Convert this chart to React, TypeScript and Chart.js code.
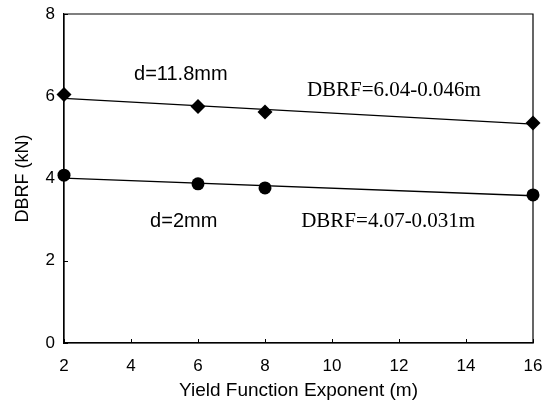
import React, { useEffect, useRef } from "react";
import { Chart, registerables } from "chart.js";

Chart.register(...registerables);

// Data
const exponentM = [2, 6, 8, 16];
const dbrfD118 = [6.04, 5.75, 5.62, 5.35];
const dbrfD2 = [4.08, 3.87, 3.77, 3.6];

const fitM = [2, 16];
const fitD118 = [5.95, 5.32];
const fitD2 = [4.01, 3.58];

const xTicks = [2, 4, 6, 8, 10, 12, 14, 16];
const yTicks = [0, 2, 4, 6, 8];

const annotationTexts = ["d=11.8mm", "DBRF=6.04-0.046m", "d=2mm", "DBRF=4.07-0.031m"];
const annotationX = [4.09, 9.25, 4.57, 9.08];
const annotationY = [6.54, 6.15, 2.95, 2.95];
const annotationSerif = [false, true, false, true];

const SANS = "'Liberation Sans', Arial, sans-serif";
const SERIF = "'Liberation Serif', 'Times New Roman', serif";

const framePlugin = {
  id: "frameAndText",
  afterDraw(chart: any) {
    const { ctx, chartArea, scales } = chart;
    const xs = scales.x;
    const ys = scales.y;
    ctx.save();
    ctx.strokeStyle = "#000";
    ctx.lineWidth = 1.2;
    ctx.beginPath();
    ctx.rect(chartArea.left, chartArea.top, chartArea.right - chartArea.left, chartArea.bottom - chartArea.top);
    ctx.stroke();
    ctx.lineWidth = 1;
    ctx.beginPath();
    xTicks.forEach((t) => {
      const px = Math.round(xs.getPixelForValue(t)) + 0.5;
      ctx.moveTo(px, chartArea.bottom);
      ctx.lineTo(px, chartArea.bottom - 4);
    });
    yTicks.forEach((t) => {
      const py = Math.round(ys.getPixelForValue(t)) + 0.5;
      ctx.moveTo(chartArea.left, py);
      ctx.lineTo(chartArea.left + 4, py);
    });
    ctx.stroke();

    ctx.fillStyle = "#000";
    ctx.textAlign = "left";
    ctx.textBaseline = "middle";
    annotationTexts.forEach((txt, i) => {
      ctx.font = annotationSerif[i] ? `21px ${SERIF}` : `20px ${SANS}`;
      ctx.fillText(txt, xs.getPixelForValue(annotationX[i]), ys.getPixelForValue(annotationY[i]));
    });
    ctx.restore();
  },
};

export default function App() {
  const canvasRef = useRef<HTMLCanvasElement | null>(null);

  useEffect(() => {
    if (!canvasRef.current) return;
    const toXY = (xs: number[], ys: number[]) => xs.map((x, i) => ({ x, y: ys[i] }));
    const chart = new Chart(canvasRef.current, {
      type: "scatter",
      data: {
        datasets: [
          {
            label: "fit 11.8",
            data: toXY(fitM, fitD118),
            showLine: true,
            borderColor: "#000",
            borderWidth: 1.3,
            pointRadius: 0,
            clip: false,
          },
          {
            label: "fit 2",
            data: toXY(fitM, fitD2),
            showLine: true,
            borderColor: "#000",
            borderWidth: 1.3,
            pointRadius: 0,
            clip: false,
          },
          {
            label: "d=11.8mm",
            data: toXY(exponentM, dbrfD118),
            showLine: false,
            pointStyle: "rectRot",
            pointRadius: 7.5,
            backgroundColor: "#000",
            borderColor: "#000",
            borderWidth: 0,
            clip: false,
          },
          {
            label: "d=2mm",
            data: toXY(exponentM, dbrfD2),
            showLine: false,
            pointStyle: "circle",
            pointRadius: 6.5,
            backgroundColor: "#000",
            borderColor: "#000",
            borderWidth: 0,
            clip: false,
          },
        ],
      },
      options: {
        responsive: false,
        animation: false,
        devicePixelRatio: 1,
        layout: { padding: { top: 14, right: 22, left: 0, bottom: 0 } },
        plugins: { legend: { display: false }, tooltip: { enabled: false } },
        scales: {
          x: {
            type: "linear",
            min: 2,
            max: 16,
            afterBuildTicks: (scale: any) => {
              scale.ticks = xTicks.map((v) => ({ value: v }));
            },
            afterFit: (scale: any) => {
              scale.height = 66;
              scale.paddingLeft = 0;
              scale.paddingRight = 0;
            },
            grid: { display: false, drawTicks: false },
            border: { display: true, color: "#000", width: 1.2 },
            ticks: { color: "#000", padding: 13, font: { family: SANS, size: 17 }, maxRotation: 0 },
            title: {
              display: true,
              text: "Yield Function Exponent (m)",
              color: "#000",
              font: { family: SANS, size: 19 },
              padding: { top: 0, bottom: 7 },
            },
          },
          y: {
            type: "linear",
            min: 0,
            max: 8,
            afterBuildTicks: (scale: any) => {
              scale.ticks = yTicks.map((v) => ({ value: v }));
            },
            afterFit: (scale: any) => {
              scale.width = 64;
              scale.paddingTop = 0;
              scale.paddingBottom = 0;
            },
            grid: { display: false, drawTicks: false },
            border: { display: true, color: "#000", width: 1.2 },
            ticks: { color: "#000", padding: 9, font: { family: SANS, size: 17 } },
            title: {
              display: true,
              text: "DBRF (kN)",
              color: "#000",
              font: { family: SANS, size: 18 },
              padding: { top: 12, bottom: 0 },
            },
          },
        },
      },
      plugins: [framePlugin],
    } as any);
    return () => chart.destroy();
  }, []);

  return (
    <div style={{ position: "absolute", left: 0, top: 0, width: 555, height: 409, background: "#fff" }}>
      <canvas ref={canvasRef} width={555} height={409} style={{ display: "block", width: 555, height: 409 }} />
    </div>
  );
}
